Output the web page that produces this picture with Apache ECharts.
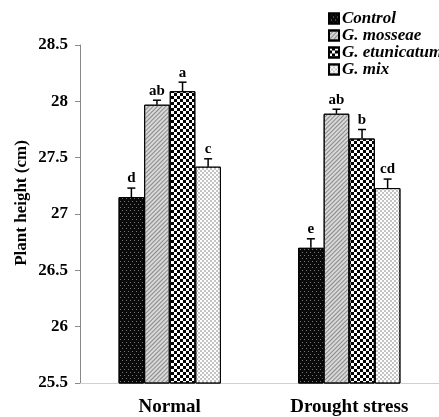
<!DOCTYPE html>
<html><head><meta charset="utf-8">
<script src="https://cdn.jsdelivr.net/npm/echarts@6/dist/echarts.min.js"></script>
<style>html,body{margin:0;padding:0;background:#fff}#c{width:439px;height:417px}</style>
</head><body><div id="c"></div>
<script>
var categories = ['Normal', 'Drought stress'];
var seriesNames = ['Control', 'G. mosseae', 'G. etunicatum', 'G. mix'];
var control = [27.15, 26.70];
var mosseae = [27.97, 27.89];
var etunicatum = [28.09, 27.67];
var gmix = [27.42, 27.23];
var controlErr = [0.08, 0.08];
var mosseaeErr = [0.04, 0.04];
var etunicatumErr = [0.08, 0.08];
var gmixErr = [0.07, 0.08];
var controlLetters = ['d', 'e'];
var mosseaeLetters = ['ab', 'ab'];
var etunicatumLetters = ['a', 'b'];
var gmixLetters = ['c', 'cd'];
var yTicks = [25.5, 26, 26.5, 27, 27.5, 28, 28.5];

var values = [control, mosseae, etunicatum, gmix];
var errs = [controlErr, mosseaeErr, etunicatumErr, gmixErr];
var letters = [controlLetters, mosseaeLetters, etunicatumLetters, gmixLetters];

var serif = '"Liberation Serif", "Times New Roman", serif';
var catGap = 0.43;

var styles = [
  { color: '#0a0a0a', borderColor: '#000', borderWidth: 1,
    decal: { symbol: 'rect', symbolSize: 1, color: 'rgba(255,255,255,0.45)', dashArrayX: [[1, 3], [0, 2, 1, 1]], dashArrayY: [1, 2] } },
  { color: '#d8d8d8', borderColor: '#000', borderWidth: 1,
    decal: { symbol: 'rect', symbolSize: 1, color: '#8a8a8a', dashArrayX: [1, 0], dashArrayY: [1, 2], rotation: -Math.PI / 4 } },
  { color: '#ffffff', borderColor: '#000', borderWidth: 1,
    decal: { symbol: 'rect', symbolSize: 1, color: '#000', dashArrayX: [[3, 3], [0, 3, 3, 0]], dashArrayY: [3, 0] } },
  { color: '#ffffff', borderColor: '#000', borderWidth: 1,
    decal: { symbol: 'rect', symbolSize: 1, color: '#c4c4c4', dashArrayX: [[2, 2], [0, 2, 2, 0]], dashArrayY: [2, 0] } }
];

var series = [];
seriesNames.forEach(function (n, i) {
  series.push({
    name: n, type: 'bar', data: values[i], barGap: '0%', barCategoryGap: (catGap * 100) + '%',
    itemStyle: styles[i], emphasis: { disabled: true }
  });
});

var errData = [];
values.forEach(function (arr, si) {
  arr.forEach(function (v, ci) {
    errData.push([ci, v, v + errs[si][ci], si, letters[si][ci]]);
  });
});

series.push({
  type: 'custom', name: 'err', silent: true, z: 10,
  data: errData,
  encode: { x: 0, y: [1, 2] },
  renderItem: function (params, api) {
    var ci = api.value(0), si = api.value(3);
    var band = api.size([1, 0])[0];
    var barW = band * (1 - catGap) / 4;
    var x0 = api.coord([ci, 0])[0] - 2 * barW + (si + 0.5) * barW;
    var pTop = api.coord([ci, api.value(1)])[1];
    var pErr = api.coord([ci, api.value(2)])[1];
    var cap = 4;
    return {
      type: 'group',
      children: [
        { type: 'line', shape: { x1: x0, y1: pTop, x2: x0, y2: pErr }, style: { stroke: '#000', lineWidth: 1.5 } },
        { type: 'line', shape: { x1: x0 - cap, y1: pErr, x2: x0 + cap, y2: pErr }, style: { stroke: '#000', lineWidth: 1.5 } },
        { type: 'text', x: x0, y: pErr - 2, style: { text: errData[params.dataIndex][4], fill: '#000', font: 'bold 15px ' + serif, align: 'center', verticalAlign: 'bottom' } }
      ]
    };
  }
});

var chart = echarts.init(document.getElementById('c'));
chart.setOption({
  animation: false,
  backgroundColor: '#fff',
  grid: { left: 80, right: 0, top: 45, bottom: 34, containLabel: false },
  legend: {
    data: seriesNames, orient: 'vertical', left: 323, top: 5, itemGap: 0,
    itemWidth: 10, itemHeight: 10, icon: 'rect', selectedMode: false,
    textStyle: { fontFamily: serif, fontStyle: 'italic', fontWeight: 'bold', fontSize: 17, color: '#000', padding: [0, 0, 0, -2] }
  },
  graphic: [{
    type: 'text', x: 22, y: 203, rotation: Math.PI / 2,
    style: { text: 'Plant height (cm)', font: 'bold 17px ' + serif, fill: '#000', align: 'center', verticalAlign: 'middle' }
  }],
  xAxis: {
    type: 'category', data: categories,
    axisLine: { lineStyle: { color: '#d0d0d0', width: 1 } },
    axisTick: { show: false },
    axisLabel: { fontFamily: serif, fontWeight: 'bold', fontSize: 19, color: '#000', margin: 15 }
  },
  yAxis: {
    type: 'value', min: 25.5, max: 28.5, interval: 0.5,
    splitLine: { show: false },
    axisLine: { show: true, lineStyle: { color: '#888', width: 1 } },
    axisTick: { show: true, length: 5, lineStyle: { color: '#888' } },
    axisLabel: { fontFamily: serif, fontWeight: 'bold', fontSize: 17, color: '#000', margin: 12,
      formatter: function (v) { return yTicks.indexOf(v) >= 0 ? String(v) : ''; } }
  },
  series: series
});
</script></body></html>
